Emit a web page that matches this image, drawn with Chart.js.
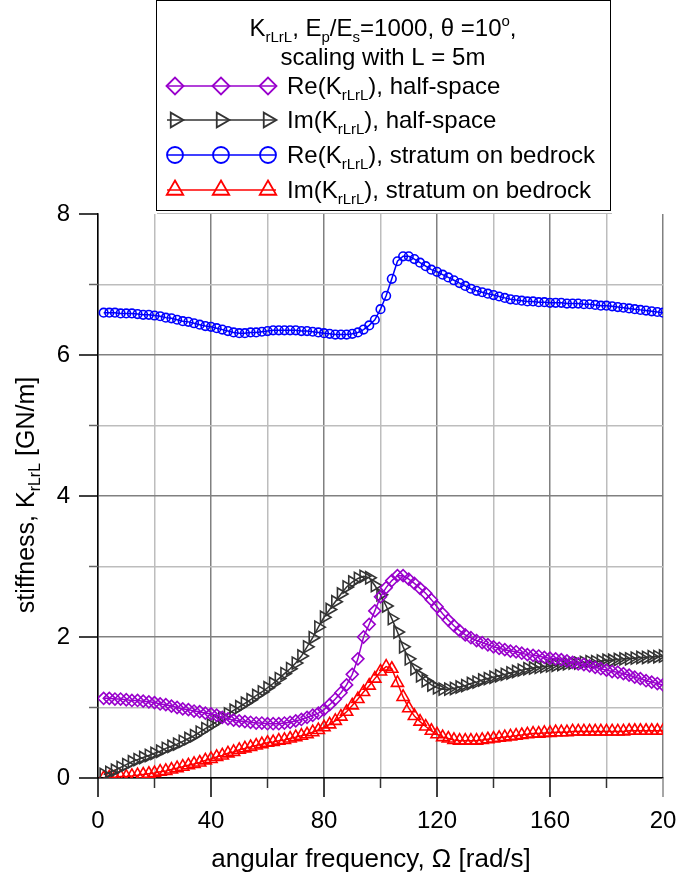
<!DOCTYPE html>
<html>
<head>
<meta charset="utf-8">
<script src="https://cdn.jsdelivr.net/npm/chart.js@4.4.0/dist/chart.umd.min.js"></script>
<style>
  html, body { margin: 0; padding: 0; background: #fff; }
</style>
</head>
<body>
<canvas id="chart" width="688" height="886"></canvas>
<script>
// angular frequency [rad/s]
const omega = [2, 4, 6, 8, 10, 12, 14, 16, 18, 20, 22, 24, 26, 28, 30, 32, 34, 36, 38, 40,
  42, 44, 46, 48, 50, 52, 54, 56, 58, 60, 62, 64, 66, 68, 70, 72, 74, 76, 78, 80,
  82, 84, 86, 88, 90, 92, 94, 96, 98, 100, 102, 104, 106, 108, 110, 112, 114, 116, 118, 120,
  122, 124, 126, 128, 130, 132, 134, 136, 138, 140, 142, 144, 146, 148, 150, 152, 154, 156, 158, 160,
  162, 164, 166, 168, 170, 172, 174, 176, 178, 180, 182, 184, 186, 188, 190, 192, 194, 196, 198, 200];

// Re(K), half-space [GN/m]
const reHalf = [1.13, 1.13, 1.12, 1.12, 1.11, 1.10, 1.10, 1.09, 1.08, 1.07, 1.05, 1.04, 1.02, 1.00, 0.98, 0.97, 0.95, 0.94, 0.92, 0.91,
  0.89, 0.86, 0.84, 0.82, 0.81, 0.80, 0.79, 0.78, 0.78, 0.77, 0.77, 0.77, 0.78, 0.79, 0.81, 0.83, 0.86, 0.89, 0.92, 0.97,
  1.04, 1.12, 1.21, 1.32, 1.47, 1.69, 2.00, 2.18, 2.37, 2.57, 2.70, 2.80, 2.87, 2.87, 2.82, 2.76, 2.69, 2.62, 2.53, 2.43,
  2.33, 2.24, 2.16, 2.09, 2.03, 1.99, 1.95, 1.92, 1.89, 1.86, 1.84, 1.82, 1.80, 1.79, 1.77, 1.75, 1.74, 1.73, 1.71, 1.70,
  1.69, 1.68, 1.66, 1.64, 1.62, 1.61, 1.59, 1.57, 1.55, 1.53, 1.51, 1.50, 1.48, 1.46, 1.43, 1.41, 1.38, 1.36, 1.34, 1.32];

// Im(K), half-space
const imHalf = [0.05, 0.08, 0.11, 0.15, 0.19, 0.23, 0.26, 0.29, 0.32, 0.35, 0.38, 0.42, 0.45, 0.48, 0.52, 0.56, 0.60, 0.65, 0.70, 0.75,
  0.80, 0.86, 0.91, 0.96, 1.01, 1.06, 1.11, 1.17, 1.22, 1.28, 1.34, 1.41, 1.48, 1.55, 1.63, 1.73, 1.86, 1.99, 2.14, 2.28,
  2.39, 2.50, 2.61, 2.71, 2.78, 2.83, 2.86, 2.84, 2.73, 2.60, 2.44, 2.26, 2.07, 1.86, 1.69, 1.55, 1.45, 1.38, 1.32, 1.28,
  1.26, 1.26, 1.27, 1.29, 1.31, 1.34, 1.36, 1.39, 1.41, 1.43, 1.45, 1.47, 1.49, 1.51, 1.53, 1.55, 1.56, 1.57, 1.58, 1.59,
  1.60, 1.61, 1.62, 1.63, 1.63, 1.64, 1.65, 1.65, 1.66, 1.67, 1.67, 1.68, 1.69, 1.69, 1.70, 1.71, 1.71, 1.72, 1.72, 1.73];

// Re(K), stratum on bedrock
const reStratum = [6.60, 6.60, 6.60, 6.59, 6.59, 6.59, 6.58, 6.57, 6.57, 6.56, 6.55, 6.53, 6.52, 6.50, 6.48, 6.47, 6.45, 6.43, 6.41, 6.40,
  6.38, 6.36, 6.34, 6.32, 6.31, 6.31, 6.32, 6.32, 6.33, 6.34, 6.35, 6.35, 6.35, 6.35, 6.35, 6.34, 6.34, 6.33, 6.32, 6.31,
  6.30, 6.29, 6.29, 6.29, 6.30, 6.32, 6.36, 6.42, 6.50, 6.65, 6.84, 7.08, 7.33, 7.40, 7.40, 7.36, 7.31, 7.26, 7.21, 7.18,
  7.14, 7.10, 7.06, 7.02, 6.98, 6.94, 6.91, 6.89, 6.87, 6.85, 6.83, 6.81, 6.79, 6.78, 6.77, 6.76, 6.76, 6.75, 6.75, 6.74,
  6.74, 6.74, 6.73, 6.73, 6.73, 6.72, 6.72, 6.71, 6.70, 6.70, 6.69, 6.68, 6.67, 6.66, 6.65, 6.64, 6.63, 6.62, 6.61, 6.60];

// Im(K), stratum on bedrock
const imStratum = [0.00, 0.01, 0.01, 0.02, 0.02, 0.03, 0.04, 0.05, 0.06, 0.07, 0.09, 0.10, 0.12, 0.14, 0.16, 0.18, 0.20, 0.22, 0.25, 0.27,
  0.30, 0.32, 0.35, 0.37, 0.40, 0.42, 0.44, 0.46, 0.48, 0.50, 0.51, 0.53, 0.54, 0.56, 0.58, 0.60, 0.62, 0.65, 0.68, 0.72,
  0.76, 0.81, 0.87, 0.94, 1.03, 1.12, 1.22, 1.31, 1.41, 1.51, 1.58, 1.55, 1.35, 1.15, 0.99, 0.88, 0.80, 0.73, 0.67, 0.62,
  0.58, 0.56, 0.54, 0.53, 0.53, 0.53, 0.53, 0.54, 0.55, 0.56, 0.57, 0.58, 0.59, 0.60, 0.61, 0.62, 0.63, 0.63, 0.64, 0.64,
  0.65, 0.65, 0.65, 0.66, 0.66, 0.66, 0.66, 0.66, 0.66, 0.66, 0.66, 0.66, 0.66, 0.67, 0.67, 0.67, 0.67, 0.67, 0.67, 0.67];

const xLabelValues = [0, 40, 80, 120, 160, 200];
const xLabelTexts = ['0', '40', '80', '120', '160', '20'];
const yLabelValues = [0, 2, 4, 6, 8];
const yLabelTexts = ['0', '2', '4', '6', '8'];

const FONT = 'Arial, "Liberation Sans", sans-serif';
Chart.defaults.font.family = FONT;
Chart.defaults.color = '#000';

function pts(ys) {
  return omega.map((w, i) => ({ x: w, y: ys[i] }));
}

// text with sub/superscripts, parts = [[text, 'sub'|'sup'|undefined], ...]
function richText(ctx, parts, x, y, size, align) {
  const big = size + 'px ' + FONT;
  const small = Math.round(size * 0.62) + 'px ' + FONT;
  let w = 0;
  parts.forEach(p => { ctx.font = p[1] ? small : big; w += ctx.measureText(p[0]).width; });
  let cx = align === 'center' ? x - w / 2 : x;
  ctx.textAlign = 'left';
  ctx.textBaseline = 'alphabetic';
  parts.forEach(p => {
    ctx.font = p[1] ? small : big;
    const dy = p[1] === 'sub' ? size * 0.25 : p[1] === 'sup' ? -size * 0.42 : 0;
    ctx.fillText(p[0], cx, y + dy);
    cx += ctx.measureText(p[0]).width;
  });
}

const legendEntries = [
  [['Re(K'], ['rLrL', 'sub'], ['), half-space']],
  [['Im(K'], ['rLrL', 'sub'], ['), half-space']],
  [['Re(K'], ['rLrL', 'sub'], ['), stratum on bedrock']],
  [['Im(K'], ['rLrL', 'sub'], ['), stratum on bedrock']]
];

const boxLegend = {
  id: 'boxLegend',
  afterDraw(chart) {
    const ctx = chart.ctx;
    ctx.save();
    ctx.fillStyle = '#fff';
    ctx.fillRect(157, 0, 454, 211);
    ctx.strokeStyle = '#000';
    ctx.lineWidth = 1;
    ctx.strokeRect(156.5, 0.5, 454, 210);
    ctx.strokeStyle = '#bbb';
    ctx.beginPath(); ctx.moveTo(157, 213.5); ctx.lineTo(612, 213.5); ctx.stroke();

    ctx.fillStyle = '#000';
    richText(ctx, [['K'], ['rLrL', 'sub'], [', E'], ['p', 'sub'], ['/E'], ['s', 'sub'], ['=1000, \u03b8 =10'], ['o', 'sup'], [',']], 383, 36, 24, 'center');
    richText(ctx, [['scaling with L = 5m']], 383, 65, 24, 'center');

    const baselines = [94, 128, 163, 198];
    chart.data.datasets.forEach((ds, i) => {
      const ly = baselines[i] - 8;
      ctx.strokeStyle = ds.borderColor;
      ctx.lineWidth = 1.5;
      ctx.beginPath(); ctx.moveTo(167, ly); ctx.lineTo(276, ly); ctx.stroke();
      [175, 221, 268].forEach(mx => {
        ctx.fillStyle = 'rgba(0,0,0,0)';
        ctx.strokeStyle = ds.borderColor;
        ctx.lineWidth = 1.8;
        Chart.helpers.drawPoint(ctx, {
          pointStyle: ds.pointStyle,
          rotation: ds.pointRotation || 0,
          radius: ds.legendRadius,
          borderWidth: 1.8
        }, mx, ly);
      });
      ctx.fillStyle = '#000';
      richText(ctx, legendEntries[i], 287, baselines[i], 24);
    });

    // axis titles
    richText(ctx, [['angular frequency, \u03a9 [rad/s]']], 371, 867, 26, 'center');
    ctx.save();
    ctx.translate(34, 495);
    ctx.rotate(-Math.PI / 2);
    richText(ctx, [['stiffness, K'], ['rLrL', 'sub'], [' [GN/m]']], 0, 0, 25, 'center');
    ctx.restore();
    ctx.restore();
  }
};

const axisTicks = {
  id: 'axisTicks',
  afterDraw(chart) {
    const { ctx, chartArea: a } = chart;
    const x = chart.scales.x, y = chart.scales.y;
    ctx.save();
    ctx.lineWidth = 1.5;
    x.ticks.forEach(t => {
      const px = x.getPixelForValue(t.value);
      const major = t.value % 40 === 0;
      ctx.strokeStyle = t.value === 200 ? '#888' : (major ? '#000' : '#333');
      ctx.beginPath(); ctx.moveTo(px, a.bottom); ctx.lineTo(px, a.bottom + (major ? 19 : 10)); ctx.stroke();
    });
    y.ticks.forEach(t => {
      const py = y.getPixelForValue(t.value);
      const major = t.value % 2 === 0;
      ctx.strokeStyle = major ? '#000' : '#666';
      ctx.beginPath(); ctx.moveTo(a.left, py); ctx.lineTo(a.left - (major ? 19 : 9), py); ctx.stroke();
    });
    ctx.restore();
  }
};

const data = {
  datasets: [
    {
      label: 'Re(KrLrL), half-space',
      data: pts(reHalf),
      borderColor: '#9900cc',
      pointStyle: 'rectRot',
      pointRadius: 6,
      legendRadius: 8.5
    },
    {
      label: 'Im(KrLrL), half-space',
      data: pts(imHalf),
      borderColor: '#333333',
      pointStyle: 'triangle',
      pointRotation: 90,
      pointRadius: 7,
      legendRadius: 8.5
    },
    {
      label: 'Re(KrLrL), stratum on bedrock',
      data: pts(reStratum),
      borderColor: '#0000ff',
      pointStyle: 'circle',
      pointRadius: 4.3,
      legendRadius: 8
    },
    {
      label: 'Im(KrLrL), stratum on bedrock',
      data: pts(imStratum),
      borderColor: '#ff0000',
      pointStyle: 'triangle',
      pointRadius: 7,
      legendRadius: 9.5
    }
  ]
};
data.datasets.forEach(ds => {
  ds.backgroundColor = 'rgba(0,0,0,0)';
  ds.pointBackgroundColor = 'rgba(0,0,0,0)';
  ds.pointBorderColor = ds.borderColor;
  ds.pointBorderWidth = 1.6;
  ds.borderWidth = 1.5;
  ds.tension = 0;
});

const config = {
  type: 'line',
  data,
  options: {
    responsive: false,
    animation: false,
    layout: { padding: { top: 214, right: 25, left: 0, bottom: 0 } },
    plugins: { legend: { display: false }, tooltip: { enabled: false } },
    scales: {
      x: {
        type: 'linear',
        min: 0,
        max: 200,
        afterFit: s => { s.height = 108; },
        border: { color: '#000', width: 1.5 },
        grid: {
          drawTicks: true,
          tickLength: 26,
          tickColor: 'rgba(0,0,0,0)',
          lineWidth: 1.5,
          color: c => (c.tick.value % 40 === 0 ? '#808080' : '#bdbdbd')
        },
        ticks: {
          stepSize: 20,
          autoSkip: false,
          maxRotation: 0,
          padding: 3,
          font: { size: 24 },
          callback: v => {
            const i = xLabelValues.indexOf(v);
            return i >= 0 ? xLabelTexts[i] : '';
          }
        }
      },
      y: {
        min: 0,
        max: 8,
        afterFit: s => { s.width = 98; },
        border: { color: '#000', width: 1.5 },
        grid: {
          drawTicks: false,
          lineWidth: 1.5,
          color: c => (c.tick.value === 8 ? 'rgba(0,0,0,0)' : (c.tick.value % 2 === 0 ? '#808080' : '#bdbdbd'))
        },
        ticks: {
          stepSize: 1,
          padding: 28,
          crossAlign: 'near',
          font: { size: 24 },
          callback: v => {
            const i = yLabelValues.indexOf(v);
            return i >= 0 ? yLabelTexts[i] : '';
          }
        }
      }
    }
  },
  plugins: [axisTicks, boxLegend]
};

const myChart = new Chart(document.getElementById('chart'), config);
</script>
</body>
</html>
